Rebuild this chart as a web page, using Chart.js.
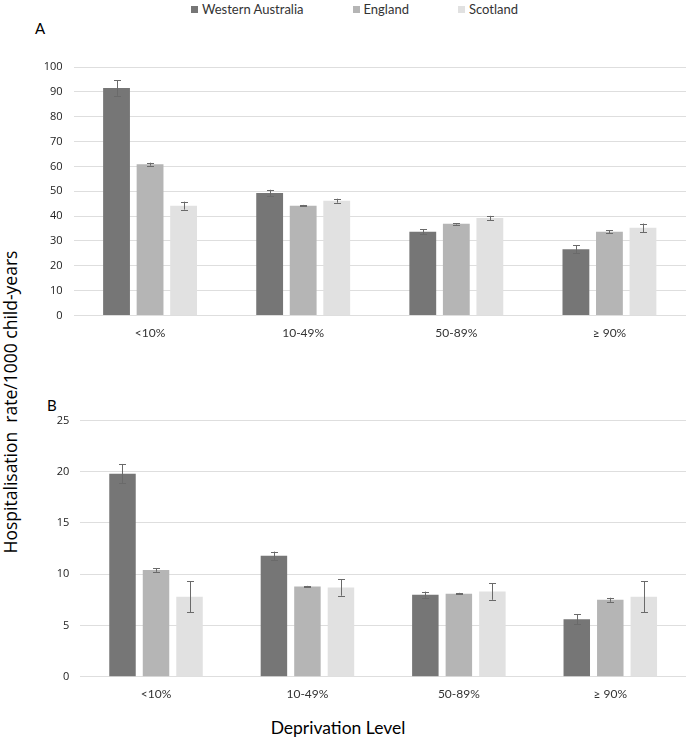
<!DOCTYPE html>
<html>
<head>
<meta charset="utf-8">
<script src="https://cdn.jsdelivr.net/npm/chart.js@4"></script>
<style>
  body { margin: 0; background: #fff; }
  #wrap { position: relative; width: 686px; height: 751px; overflow: hidden; }
  canvas { position: absolute; left: 0; }
  .txt { position: absolute; color: #000; white-space: nowrap; }
  #legend { position: absolute; top: 1px; left: 191px; font: 13px Lato, sans-serif; color: #333; display: flex; }
  #legend span.item { display: flex; align-items: center; margin-right: 49px; }
  #legend span.sw { width: 7px; height: 7px; margin-right: 4px; display: inline-block; }
</style>
</head>
<body>
<div id="wrap">
  <div id="legend"></div>
  <div class="txt" style="left:35px; top:19px; font:15px Lato, sans-serif;">A</div>
  <div class="txt" style="left:47px; top:396px; font:15px Lato, sans-serif;">B</div>
  <div class="txt" id="ytitle" style="font:17.5px 'Open Sans', sans-serif; left:10px; top:402px; transform: translate(-50%, -50%) rotate(-90deg);">Hospitalisation&nbsp; rate/1000 child-years</div>
  <div class="txt" style="left:338px; top:727px; font:17.5px Lato, sans-serif; transform: translate(-50%, -50%);">Deprivation Level</div>
  <canvas id="chartA" width="686" height="345" style="top:0"></canvas>
  <canvas id="chartB" width="686" height="370" style="top:345px"></canvas>
</div>
<script>
const categories = ['<10%', '10-49%', '50-89%', '\u2265 90%'];
const seriesNames = ['Western Australia', 'England', 'Scotland'];
const seriesColors = ['#767676', '#b5b5b5', '#e1e1e1'];

// panel A
const waA = [91.5, 49.3, 33.7, 26.7];
const engA = [60.9, 44.2, 36.9, 33.7];
const scoA = [44.2, 46.2, 39.2, 35.3];
const waAErr = [3.1, 1.3, 1.1, 1.5];
const engAErr = [0.6, 0.3, 0.3, 0.6];
const scoAErr = [1.6, 0.8, 0.9, 1.7];

// panel B
const waB = [19.8, 11.8, 8.0, 5.6];
const engB = [10.4, 8.8, 8.1, 7.5];
const scoB = [7.8, 8.7, 8.3, 7.8];
const waBErr = [0.95, 0.4, 0.3, 0.5];
const engBErr = [0.17, 0.06, 0.08, 0.2];
const scoBErr = [1.5, 0.8, 0.8, 1.5];

const legend = document.getElementById('legend');
seriesNames.forEach((name, i) => {
  const item = document.createElement('span');
  item.className = 'item';
  item.innerHTML = '<span class="sw" style="background:' + seriesColors[i] + '"></span>' + name;
  legend.appendChild(item);
});

const errorBars = {
  id: 'errorBars',
  afterDatasetsDraw(chart) {
    const ctx = chart.ctx;
    const y = chart.scales.y;
    ctx.save();
    ctx.strokeStyle = '#6a6a6a';
    ctx.lineWidth = 1;
    chart.data.datasets.forEach((ds, di) => {
      const meta = chart.getDatasetMeta(di);
      meta.data.forEach((bar, i) => {
        const v = ds.data[i];
        const e = ds.errors[i];
        const x = Math.round(bar.x) + 0.5;
        const top = y.getPixelForValue(v + e);
        const bot = y.getPixelForValue(v - e);
        ctx.beginPath();
        ctx.moveTo(x, top);
        ctx.lineTo(x, bot);
        ctx.moveTo(x - 3.5, Math.round(top) + 0.5);
        ctx.lineTo(x + 3.5, Math.round(top) + 0.5);
        ctx.moveTo(x - 3.5, Math.round(bot) + 0.5);
        ctx.lineTo(x + 3.5, Math.round(bot) + 0.5);
        ctx.stroke();
      });
    });
    ctx.restore();
  }
};

function makeChart(id, values, errors, opts) {
  const datasets = values.map((data, i) => ({
    label: seriesNames[i],
    data: data,
    errors: errors[i],
    backgroundColor: seriesColors[i],
    categoryPercentage: opts.catPct,
    barPercentage: opts.barPct,
  }));
  return new Chart(document.getElementById(id), {
    type: 'bar',
    data: { labels: categories, datasets: datasets },
    plugins: [errorBars],
    options: {
      responsive: false,
      animation: false,
      events: [],
      layout: { padding: { top: opts.top, left: 0, right: 0, bottom: 0 } },
      plugins: { legend: { display: false }, tooltip: { enabled: false } },
      scales: {
        x: {
          grid: { display: false, drawTicks: false },
          border: { display: false },
          ticks: { color: '#333', padding: 10, font: { family: 'Lato', size: 12 } },
          afterFit: (s) => { s.height = opts.xHeight; },
        },
        y: {
          min: 0,
          max: opts.max,
          grid: { color: '#dedede', drawTicks: false },
          border: { display: false },
          ticks: {
            stepSize: opts.step,
            color: '#222',
            padding: 11,
            font: { family: 'Open Sans', size: 11 },
          },
          afterFit: (s) => { s.width = opts.yWidth; },
        },
      },
    },
  });
}

makeChart('chartA', [waA, engA, scoA], [waAErr, engAErr, scoAErr],
  { max: 100, step: 10, top: 67, yWidth: 73.5, xHeight: 29.5, catPct: 0.657, barPct: 0.8 });
makeChart('chartB', [waB, engB, scoB], [waBErr, engBErr, scoBErr],
  { max: 25, step: 5, top: 75.4, yWidth: 80.3, xHeight: 38.3, catPct: 0.664, barPct: 0.79 });
</script>
</body>
</html>
